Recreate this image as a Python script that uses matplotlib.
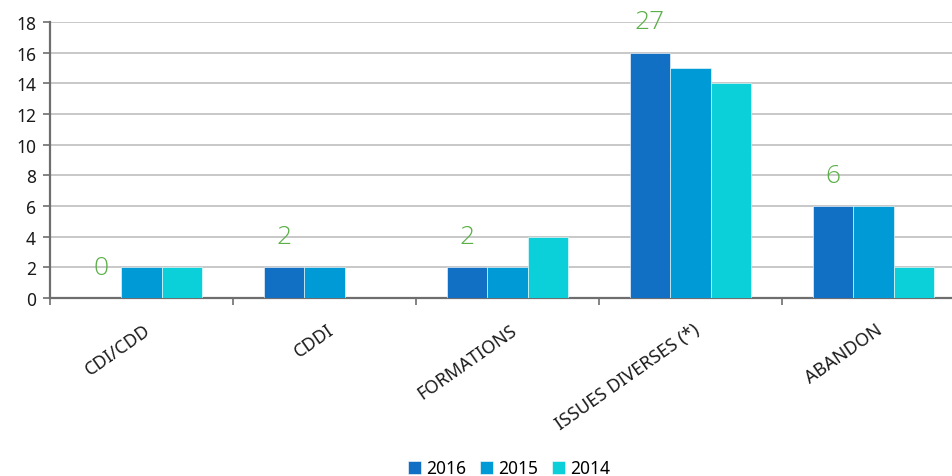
import matplotlib
matplotlib.use("Agg")
import matplotlib.pyplot as plt
import numpy as np

categories = ["CDI/CDD", "CDDI", "FORMATIONS", "ISSUES DIVERSES (*)", "ABANDON"]
years = ["2016", "2015", "2014"]
values_2016 = [0, 2, 2, 16, 6]
values_2015 = [2, 2, 2, 15, 6]
values_2014 = [2, 0, 4, 14, 2]
top_labels = ["0", "2", "2", "27", "6"]

colors = ["#1170C4", "#009BD6", "#0BCFD9"]
label_color = "#5AAF46"
font = "Noto Sans"

fig = plt.figure(figsize=(9.52, 4.77), dpi=100)
# plot area runs slightly past the right edge of the canvas
ax = fig.add_axes([50 / 952, 178 / 477, 915 / 952, 276 / 477])

x = np.arange(len(categories))
w = 0.222
series = [values_2016, values_2015, values_2014]
for i, (vals, col, yr) in enumerate(zip(series, colors, years)):
    ax.bar(x + (i - 1) * w, vals, width=w, color=col, label=yr,
           edgecolor="white", linewidth=0.4, zorder=3)

# value annotations above the 2016 bars
for xi, v, txt in zip(x, values_2016, top_labels):
    ax.text(xi - w, v + 2.0, txt, ha="center", va="center",
            color=label_color, fontsize=19, family="Open Sans",
            fontweight="light", fontstyle="normal", zorder=4)

ax.set_xlim(-0.5, len(categories) - 0.5)
ax.set_ylim(0, 18)
ax.set_yticks(range(0, 19, 2))
ax.yaxis.grid(True, color="#BFBFBF", linewidth=1.2, zorder=0)
ax.set_axisbelow(True)

for s in ["top", "right"]:
    ax.spines[s].set_visible(False)
for s in ["left", "bottom"]:
    ax.spines[s].set_color("#6E6E6E")
    ax.spines[s].set_linewidth(1.6)

ax.tick_params(axis="y", length=5, width=1.2, color="#6E6E6E",
               labelsize=12.5, pad=5, labelcolor="#1A1A1A")
for lbl in ax.get_yticklabels():
    lbl.set_family(font)
    lbl.set_fontstyle("normal")
ax.set_xticks(np.arange(-0.5, len(categories)))
ax.set_xticklabels([])
ax.tick_params(axis="x", length=5, width=1.2, color="#6E6E6E", direction="out")

for xi, cat in zip(x, categories):
    ax.text(xi + 0.01, -1.45, cat, rotation=35, ha="right", va="top",
            rotation_mode="anchor", fontsize=13, family=font,
            fontstyle="normal", color="#1A1A1A")

leg = fig.legend(loc="center", bbox_to_anchor=(0.535, 0.016), ncol=3,
                 frameon=False,
                 prop={"family": font, "size": 12.5, "style": "normal"},
                 handlelength=0.75, handleheight=0.75, handletextpad=0.3,
                 columnspacing=0.8)

fig.savefig("out.png", dpi=100)
